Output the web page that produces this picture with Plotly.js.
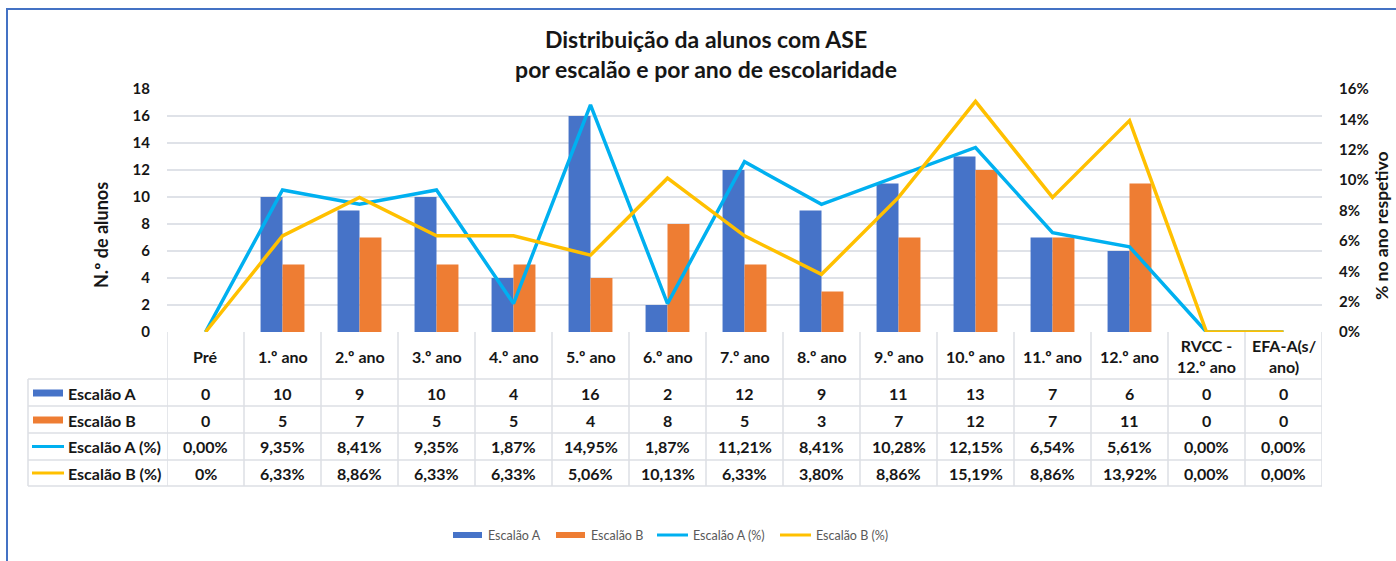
<!DOCTYPE html>
<html>
<head>
<meta charset="utf-8">
<script src="https://cdn.plot.ly/plotly-3.0.1.min.js"></script>
<style>html,body{margin:0;padding:0;background:#fff;}#chart{width:1396px;height:561px;}</style>
</head>
<body>
<div id="chart"></div>
<script>
// ---- data ----
const categories = ['Pré','1.º ano','2.º ano','3.º ano','4.º ano','5.º ano','6.º ano','7.º ano','8.º ano','9.º ano','10.º ano','11.º ano','12.º ano','RVCC -<br>12.º ano','EFA-A(s/<br>ano)'];
const escalaoA = [0,10,9,10,4,16,2,12,9,11,13,7,6,0,0];
const escalaoB = [0,5,7,5,5,4,8,5,3,7,12,7,11,0,0];
const escalaoAPct = [0,9.35,8.41,9.35,1.87,14.95,1.87,11.21,8.41,10.28,12.15,6.54,5.61,0,0];
const escalaoBPct = [0,6.33,8.86,6.33,6.33,5.06,10.13,6.33,3.80,8.86,15.19,8.86,13.92,0,0];
const seriesNames = ['Escalão A','Escalão B','Escalão A (%)','Escalão B (%)'];
const leftTicks = [0,2,4,6,8,10,12,14,16,18];
const rightTicks = [0,2,4,6,8,10,12,14,16];
const chartTitle = 'Distribuição da alunos com ASE<br>por escalão e por ano de escolaridade';
const leftTitle = 'N.º de alunos';
const rightTitle = '% no ano respetivo';

// ---- geometry helpers ----
const W = 1396, H = 561;
const L = 167, R = 1322, T = 89, B = 332;
const px2x = p => (p - L) / (R - L);
const px2y = p => (B - p) / (B - T);

const blue = '#4673c8', orange = '#ee7d33', cyan = '#00b0f0', gold = '#ffc000';
const grid = '#dfe2e8';
const FONT = 'Lato, "Open Sans", sans-serif';
const TXT = '#161616';

const fmtPct = v => v.toFixed(2).replace('.', ',') + '%';
const rowA = escalaoA.map(String);
const rowB = escalaoB.map(String);
const rowAPct = escalaoAPct.map(fmtPct);
const rowBPct = escalaoBPct.map(fmtPct);
rowBPct[0] = '0%';

const traces = [
  {type:'bar', name:seriesNames[0], x:categories, y:escalaoA, marker:{color:blue}, hoverinfo:'skip'},
  {type:'bar', name:seriesNames[1], x:categories, y:escalaoB, marker:{color:orange}, hoverinfo:'skip'},
  {type:'scatter', mode:'lines', name:seriesNames[2], x:categories, y:escalaoAPct, yaxis:'y2', line:{color:cyan, width:3.5}, hoverinfo:'skip'},
  {type:'scatter', mode:'lines', name:seriesNames[3], x:categories, y:escalaoBPct, yaxis:'y2', line:{color:gold, width:3.5}, hoverinfo:'skip'}
];

const shapes = [];
const annotations = [];

// outer border
shapes.push({type:'rect', xref:'paper', yref:'paper', x0:px2x(7), x1:px2x(1400), y0:px2y(9), y1:px2y(570), line:{color:'#4472c4', width:2}, fillcolor:'rgba(0,0,0,0)', layer:'above'});

// table rows (pixel y of horizontal rules)
const rowLines = [379, 406, 433, 460, 486];
const tLine = {color:'#dcdfe5', width:1.5};
rowLines.forEach(y => shapes.push({type:'line', xref:'paper', yref:'paper', x0:px2x(28), x1:px2x(R), y0:px2y(y), y1:px2y(y), line:tLine}));
// vertical rules at category boundaries
for (let i = 0; i <= categories.length; i++) {
  shapes.push({type:'line', xref:'x', yref:'paper', x0:i-0.5, x1:i-0.5, y0:px2y(B), y1:px2y(486), line:tLine});
}
shapes.push({type:'line', xref:'paper', yref:'paper', x0:px2x(28), x1:px2x(28), y0:px2y(379), y1:px2y(486), line:tLine});

// header
categories.forEach(c => annotations.push({xref:'x', yref:'paper', x:c, y:px2y(356), text:'<b>'+c+'</b>', showarrow:false, xanchor:'center', yanchor:'middle', font:{family:FONT, size:16, color:TXT}}));

const rows = [rowA, rowB, rowAPct, rowBPct];
const rowCenters = [393, 420, 446.5, 473];
const keyColors = [blue, orange, cyan, gold];
rows.forEach((r, k) => {
  const yc = px2y(rowCenters[k]);
  r.forEach((v, i) => annotations.push({xref:'x', yref:'paper', x:categories[i], y:yc, text:'<b>'+v+'</b>', showarrow:false, xanchor:'center', yanchor:'middle', font:{family:FONT, size:16, color:TXT}}));
  annotations.push({xref:'paper', yref:'paper', x:px2x(66), y:yc, text:'<b>'+seriesNames[k]+'</b>', showarrow:false, xanchor:'left', yanchor:'middle', font:{family:FONT, size:16, color:TXT}});
  if (k < 2) {
    shapes.push({type:'rect', xref:'paper', yref:'paper', x0:px2x(33), x1:px2x(63), y0:px2y(rowCenters[k]-3.5), y1:px2y(rowCenters[k]+3.5), fillcolor:keyColors[k], line:{width:0}});
  } else {
    shapes.push({type:'line', xref:'paper', yref:'paper', x0:px2x(32), x1:px2x(64), y0:yc, y1:yc, line:{color:keyColors[k], width:3}});
  }
});

// axis titles (Excel places them slightly below the plot centre)
annotations.push({xref:'paper', yref:'paper', x:px2x(101), y:px2y(235), text:'<b>'+leftTitle+'</b>', textangle:-90, showarrow:false, xanchor:'center', yanchor:'middle', font:{family:FONT, size:18, color:TXT}});
annotations.push({xref:'paper', yref:'paper', x:px2x(1381), y:px2y(226), text:'<b>'+rightTitle+'</b>', textangle:-90, showarrow:false, xanchor:'center', yanchor:'middle', font:{family:FONT, size:17.5, color:TXT}});

// bottom legend (manual, Excel style)
const legY = 535;
const legItems = [
  {k:0, x0:453, tx:486},
  {k:1, x0:556, tx:589},
  {k:2, x0:657, tx:691},
  {k:3, x0:780, tx:814}
];
legItems.forEach(it => {
  if (it.k < 2) {
    shapes.push({type:'rect', xref:'paper', yref:'paper', x0:px2x(it.x0), x1:px2x(it.x0+29), y0:px2y(legY-3), y1:px2y(legY+3), fillcolor:keyColors[it.k], line:{width:0}});
  } else {
    shapes.push({type:'line', xref:'paper', yref:'paper', x0:px2x(it.x0), x1:px2x(it.x0+31), y0:px2y(legY), y1:px2y(legY), line:{color:keyColors[it.k], width:3}});
  }
  annotations.push({xref:'paper', yref:'paper', x:px2x(it.tx), y:px2y(legY), text:seriesNames[it.k], showarrow:false, xanchor:'left', yanchor:'middle', font:{family:FONT, size:12.5, color:'#595959'}});
});

const layout = {
  width:W, height:H,
  margin:{l:L, r:W-R, t:T, b:H-B, pad:0},
  paper_bgcolor:'#fff', plot_bgcolor:'#fff',
  font:{family:FONT, color:TXT},
  title:{text:chartTitle, x:706/W, xanchor:'center', y:1-48/H, yanchor:'top', font:{family:FONT, size:23, weight:700, color:TXT}},
  showlegend:false,
  barmode:'group', bargap:0.43, bargroupgap:0,
  xaxis:{type:'category', range:[-0.5, categories.length-0.5], showticklabels:false, showgrid:false, zeroline:false, showline:false, ticks:'', fixedrange:true},
  yaxis:{range:[0,18], tickvals:leftTicks, showgrid:true, gridcolor:grid, gridwidth:1.5, zeroline:false, showline:false, ticks:'', ticklabelstandoff:16,
         tickfont:{family:FONT, size:15, weight:700, color:TXT}},
  yaxis2:{range:[0,16], tickvals:rightTicks, ticktext:rightTicks.map(v => v + '%'), overlaying:'y', side:'right', showgrid:false, zeroline:false, showline:false, ticks:'', ticklabelstandoff:16,
         tickfont:{family:FONT, size:15, weight:700, color:TXT}},
  shapes:shapes,
  annotations:annotations
};

Plotly.newPlot('chart', traces, layout, {displayModeBar:false, staticPlot:true});
</script>
</body>
</html>
